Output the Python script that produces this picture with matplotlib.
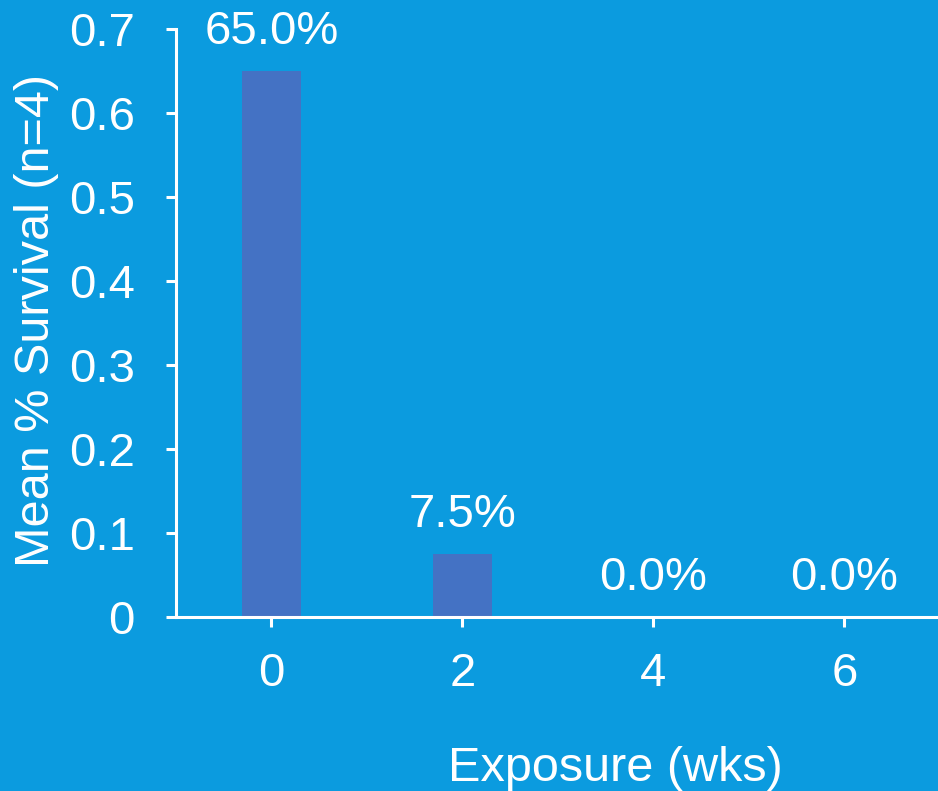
import matplotlib.pyplot as plt
import numpy as np

plt.rcParams['font.family'] = ['Liberation Sans', 'DejaVu Sans']

weeks = ['0', '2', '4', '6']
survival = [0.65, 0.075, 0.0, 0.0]
bar_labels = ['65.0%', '7.5%', '0.0%', '0.0%']

bg = '#0B9BDF'
bar_color = '#4472C4'
fg = 'white'

fig = plt.figure(figsize=(9.38, 7.91), dpi=100, facecolor=bg)
ax = fig.add_axes([0.1876, 0.22, 0.8124, 0.7433])
ax.set_facecolor(bg)

x = np.arange(len(weeks))
bars = ax.bar(x, survival, width=0.31, color=bar_color)

for rect, txt in zip(bars, bar_labels):
    ax.annotate(txt, (rect.get_x() + rect.get_width() / 2, rect.get_height()),
                xytext=(0, 12), textcoords='offset points',
                ha='center', va='bottom', color=fg, fontsize=34)

ax.set_xlim(-0.5, 3.49)
ax.set_ylim(0, 0.7)
ax.set_xticks(x)
ax.set_xticklabels(weeks)
ax.set_yticks(np.arange(0, 0.71, 0.1))
ax.set_yticklabels(['0', '0.1', '0.2', '0.3', '0.4', '0.5', '0.6', '0.7'])

for side in ['top', 'right']:
    ax.spines[side].set_visible(False)
for side in ['left', 'bottom']:
    ax.spines[side].set_color(fg)
    ax.spines[side].set_linewidth(2.2)

ax.tick_params(axis='both', colors=fg, labelsize=34, width=2.2, length=7.5)
ax.tick_params(axis='y', pad=22)
ax.tick_params(axis='x', pad=18)

ax.set_xlabel('Exposure (wks)', color=fg, fontsize=35)
ax.xaxis.set_label_coords(0.576, -0.219)
ax.set_ylabel('Mean % Survival (n=4)', color=fg, fontsize=35)
ax.yaxis.set_label_coords(-0.153, 0.505)

fig.savefig('out.png', dpi=100, facecolor=bg)
